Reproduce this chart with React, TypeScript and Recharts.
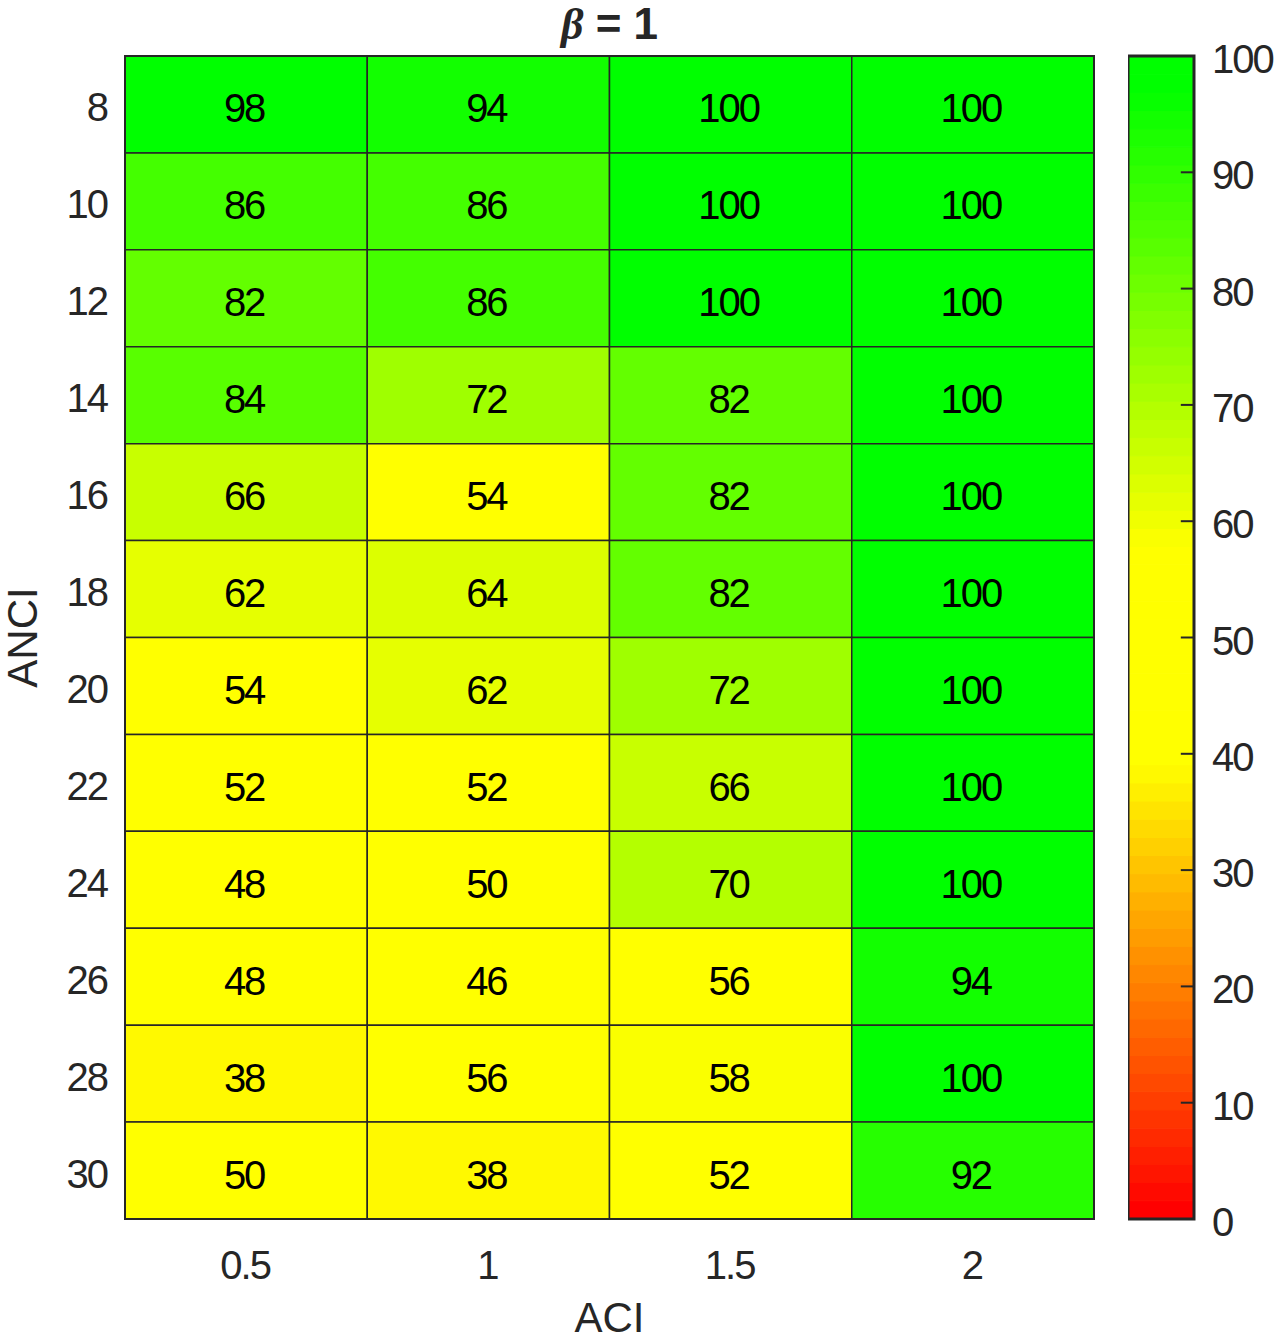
import {
  ScatterChart,
  Scatter,
  XAxis,
  YAxis,
  ReferenceArea,
  ReferenceLine,
} from 'recharts'

const aciValues = [0.5, 1, 1.5, 2]
const anciValues = [8, 10, 12, 14, 16, 18, 20, 22, 24, 26, 28, 30]

// accuracy per ANCI row, one array per ACI column
const acc05 = [98, 86, 82, 84, 66, 62, 54, 52, 48, 48, 38, 50]
const acc1 = [94, 86, 86, 72, 54, 64, 62, 52, 50, 46, 56, 38]
const acc15 = [100, 100, 100, 82, 82, 82, 72, 66, 70, 56, 58, 52]
const acc2 = [100, 100, 100, 100, 100, 100, 100, 100, 100, 94, 100, 92]

const colorbarTicks = [0, 10, 20, 30, 40, 50, 60, 70, 80, 90, 100]

const FONT = '"Liberation Sans", Arial, Helvetica, sans-serif'
const INK = '#262626'
const LEVELS = 64
const NUM_SIZE = 40

// red -> yellow -> green colormap stops [value, r, g]
const mapStops: [number, number, number][] = [
  [0, 255, 0],
  [39, 255, 255],
  [58, 255, 255],
  [98, 0, 255],
  [100, 0, 255],
]

function colorAt(v: number) {
  const q = Math.min(LEVELS - 1, Math.max(0, Math.floor((v / 100) * LEVELS)))
  const t = (q / (LEVELS - 1)) * 100
  let r = 255
  let g = 0
  for (let i = 0; i < mapStops.length - 1; i++) {
    const [a, ra, ga] = mapStops[i]
    const [b, rb, gb] = mapStops[i + 1]
    if (t >= a && t <= b) {
      const f = (t - a) / (b - a)
      r = ra + (rb - ra) * f
      g = ga + (gb - ga) * f
      break
    }
  }
  return `rgb(${Math.round(r)},${Math.round(g)},0)`
}

const columns = [acc05, acc1, acc15, acc2]
const cells = aciValues.flatMap((x, ci) =>
  anciValues.map((y, ri) => ({ x, y, v: columns[ci][ri] })),
)

const levels = Array.from({ length: LEVELS }, (_, i) => i)

const numText = {
  fontFamily: FONT,
  fontSize: NUM_SIZE,
  letterSpacing: -2,
}

function LeftTick(p: any) {
  return (
    <text x={p.x} y={p.y + 17} textAnchor="end" fill={INK} style={numText}>
      {p.payload.value}
    </text>
  )
}

function BottomTick(p: any) {
  return (
    <text x={p.x - 1} y={p.y + 58} textAnchor="middle" fill={INK} style={numText}>
      {p.payload.value}
    </text>
  )
}

function RightTick(p: any) {
  return (
    <text x={p.x} y={p.y + 17} textAnchor="start" fill={INK} style={numText}>
      {p.payload.value}
    </text>
  )
}

function CellLabel(p: any) {
  const vb = p.viewBox
  return (
    <text
      x={vb.x + vb.width / 2 - 2}
      y={vb.y + vb.height / 2 + 18}
      textAnchor="middle"
      fill="#000"
      style={numText}
    >
      {p.value}
    </text>
  )
}

export default function App() {
  return (
    <div style={{ position: 'absolute', left: 0, top: 0, width: 1275, height: 1342, background: '#fff' }}>
      <div
        style={{
          position: 'absolute',
          left: 125,
          width: 969,
          top: 2,
          textAlign: 'center',
          fontFamily: FONT,
          fontWeight: 'bold',
          fontSize: 44,
          lineHeight: '44px',
          color: INK,
        }}
      >
        <span style={{ fontFamily: '"Liberation Serif", serif', fontStyle: 'italic' }}>β</span> = 1
      </div>

      <div style={{ position: 'absolute', left: 0, top: 0 }}>
        <ScatterChart width={1110} height={1342} margin={{ top: 56, right: 16, bottom: 0, left: 0 }}>
          <XAxis
            type="number"
            dataKey="x"
            domain={[0.25, 2.25]}
            ticks={aciValues}
            interval={0}
            axisLine={false}
            tickLine={false}
            tickSize={0}
            tickMargin={2}
            height={123}
            tick={<BottomTick />}
            label={{ value: 'ACI', position: 'insideBottom', offset: 10, fill: INK, fontSize: 42, fontFamily: FONT }}
          />
          <YAxis
            type="number"
            dataKey="y"
            domain={[7, 31]}
            reversed
            ticks={anciValues}
            interval={0}
            axisLine={false}
            tickLine={false}
            tickSize={0}
            tickMargin={18}
            width={125}
            tick={<LeftTick />}
            label={{
              value: 'ANCI',
              angle: -90,
              position: 'insideLeft',
              offset: 22,
              fill: INK,
              fontSize: 42,
              fontFamily: FONT,
              style: { textAnchor: 'middle' },
            }}
          />
          {cells.map((c) => (
            <ReferenceArea
              key={`${c.x}-${c.y}`}
              x1={c.x - 0.25}
              x2={c.x + 0.25}
              y1={c.y - 1}
              y2={c.y + 1}
              fill={colorAt(c.v)}
              fillOpacity={1}
              stroke={INK}
              strokeWidth={1.5}
              label={<CellLabel value={c.v} />}
            />
          ))}
          <ReferenceArea x1={0.25} x2={2.25} y1={7} y2={31} fill="none" stroke={INK} strokeWidth={2} />
          <Scatter data={cells} isAnimationActive={false} shape={() => <g />} />
        </ScatterChart>
      </div>

      <div style={{ position: 'absolute', left: 1128, top: 0 }}>
        <ScatterChart width={147} height={1342} margin={{ top: 56, right: 0, bottom: 123, left: 0 }}>
          <XAxis type="number" dataKey="x" domain={[0, 1]} hide />
          <YAxis
            type="number"
            dataKey="y"
            orientation="right"
            domain={[0, 100]}
            ticks={colorbarTicks}
            interval={0}
            axisLine={false}
            tickLine={false}
            tickSize={0}
            tickMargin={18}
            width={81}
            tick={<RightTick />}
          />
          {levels.map((i) => {
            const col = colorAt(((i + 0.5) / LEVELS) * 100)
            return (
              <ReferenceArea
                key={i}
                x1={0}
                x2={1}
                y1={(i / LEVELS) * 100}
                y2={((i + 1) / LEVELS) * 100}
                fill={col}
                fillOpacity={1}
                stroke={col}
                strokeWidth={1}
              />
            )
          })}
          {colorbarTicks.slice(1, -1).map((t) => (
            <ReferenceLine
              key={t}
              segment={[
                { x: 0.8, y: t },
                { x: 1, y: t },
              ]}
              stroke={INK}
              strokeWidth={2}
            />
          ))}
          <ReferenceArea x1={0} x2={1} y1={0} y2={100} fill="none" stroke={INK} strokeWidth={3} />
          <Scatter
            data={colorbarTicks.map((t) => ({ x: 1, y: t }))}
            isAnimationActive={false}
            shape={() => <g />}
          />
        </ScatterChart>
      </div>
    </div>
  )
}
